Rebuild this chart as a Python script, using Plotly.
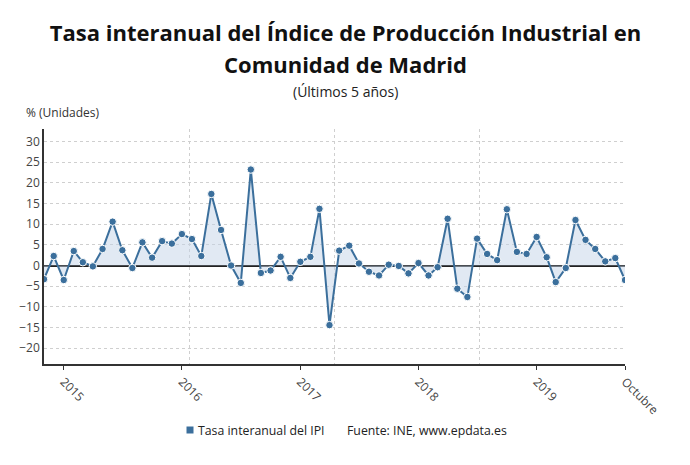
import plotly.graph_objects as go
import pandas as pd

months = pd.date_range("2014-11-01", "2019-10-01", freq="MS").strftime("%Y-%m-%d").tolist()
values = [
    -3.3, 2.3,
    -3.5, 3.5, 0.8, -0.2, 4.0, 10.6, 3.7, -0.6, 5.6, 1.9, 5.9, 5.3,
    7.6, 6.4, 2.3, 17.3, 8.6, 0.0, -4.2, 23.2, -1.8, -1.2, 2.1, -3.0,
    0.9, 2.1, 13.7, -14.4, 3.6, 4.8, 0.5, -1.5, -2.4, 0.2, -0.1, -1.9,
    0.6, -2.4, -0.4, 11.3, -5.6, -7.6, 6.5, 2.8, 1.3, 13.6, 3.3, 2.8,
    6.9, 2.0, -4.0, -0.6, 11.0, 6.2, 4.0, 1.0, 1.8, -3.5,
]
tick_vals = ["2015-01-01", "2016-01-01", "2017-01-01", "2018-01-01", "2019-01-01", "2019-10-01"]
tick_text = ["2015", "2016", "2017", "2018", "2019", "Octubre"]
y_ticks = [-20, -15, -10, -5, 0, 5, 10, 15, 20, 25, 30]
title_lines = ["Tasa interanual del Índice de Producción Industrial en", "Comunidad de Madrid"]

BLUE = "#3b6f9c"
FONT = "Open Sans"

# page offset (browser body margin)
OFF = 8
W, H = 690, 465
L, R, T, B = 44 - OFF, W - (625 - OFF), 129 - OFF, H - (364 - OFF)
PW, PH = W - L - R, H - T - B


def px(xp):
    return (xp - OFF - L) / PW


def py(yp):
    return (H - B - (yp - OFF)) / PH


fig = go.Figure()
fig.add_trace(go.Scatter(
    x=months, y=values, mode="lines+markers",
    line=dict(color=BLUE, width=2),
    marker=dict(color=BLUE, size=7.5, line=dict(color="white", width=1)),
    fill="tozeroy", fillcolor="rgba(196,212,232,0.5)",
    showlegend=False, hoverinfo="x+y",
))
fig.add_trace(go.Scatter(x=[0, 4], y=[None, None], xaxis="x2", showlegend=False, hoverinfo="skip"))

fig.update_layout(
    width=W, height=H,
    margin=dict(l=L, r=R, t=T, b=B, autoexpand=False),
    paper_bgcolor="white", plot_bgcolor="white",
    font=dict(family=FONT, color="#444", size=12),
    showlegend=False,
    title=dict(
        text="<b>" + title_lines[0] + "</b>",
        x=(345.5 - OFF) / W, xanchor="center", y=1 - (33 - OFF) / H, yanchor="middle",
        font=dict(family=FONT, size=22, color="#111"),
    ),
    xaxis=dict(
        type="date", range=["2014-11-01", "2019-10-01"],
        tickvals=tick_vals, ticktext=tick_text, tickangle=45,
        ticks="outside", ticklen=4, tickcolor="#333",
        showline=True, linecolor="#333", linewidth=2,
        showgrid=False, zeroline=False, automargin=False,
        tickfont=dict(size=12, color="#444"),
    ),
    xaxis2=dict(
        overlaying="x", range=[0, 4], dtick=1, showticklabels=False,
        showgrid=True, gridcolor="#cfcfcf", griddash="dot", gridwidth=1,
        zeroline=False, showline=False, ticks="",
    ),
    yaxis=dict(
        range=[-23.8, 33], tickvals=y_ticks,
        showgrid=True, gridcolor="#cfcfcf", griddash="dot", gridwidth=1,
        zeroline=True, zerolinecolor="#222", zerolinewidth=1.5,
        showline=True, linecolor="#333", linewidth=1.5,
        ticks="", tickfont=dict(size=12, color="#444"), automargin=False,
    ),
    shapes=[
        dict(type="rect", xref="paper", yref="paper",
             x0=px(186.5), x1=px(193.5), y0=py(433.5), y1=py(426.5),
             fillcolor=BLUE, line=dict(width=0)),
    ],
    annotations=[
        dict(text="<b>" + title_lines[1] + "</b>", xref="paper", yref="paper",
             x=px(345.5), y=py(64), xanchor="center", yanchor="middle",
             showarrow=False, font=dict(family=FONT, size=22, color="#111")),
        dict(text="(Últimos 5 años)", xref="paper", yref="paper",
             x=px(345.5), y=py(91), xanchor="center", yanchor="middle",
             showarrow=False, font=dict(size=14, color="#222")),
        dict(text="% (Unidades)", xref="paper", yref="paper",
             x=px(24), y=py(113), xanchor="left", yanchor="middle",
             showarrow=False, font=dict(size=12, color="#333")),
        dict(text="Tasa interanual del IPI", xref="paper", yref="paper",
             x=px(196), y=py(430), xanchor="left", yanchor="middle",
             showarrow=False, font=dict(size=12.3, color="#222")),
        dict(text="Fuente: INE, www.epdata.es", xref="paper", yref="paper",
             x=px(345), y=py(430), xanchor="left", yanchor="middle",
             showarrow=False, font=dict(size=12.3, color="#222")),
    ],
)

fig.write_html("out.html")
